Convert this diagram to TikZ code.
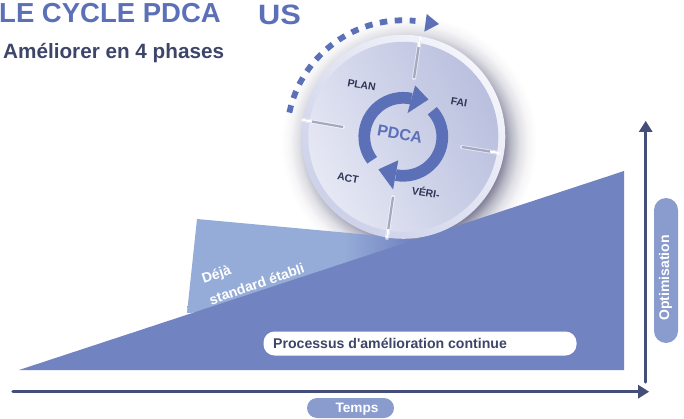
\documentclass[tikz,border=0pt]{standalone}
\usepackage{fontspec}
\setmainfont{Liberation Sans}
\newfontfamily\plainfam{Liberation Sans}[Ligatures=ResetAll]
\definecolor{ttl}{HTML}{5C70B8}
\definecolor{sub}{HTML}{3D4568}
\definecolor{mainblue}{HTML}{7283C1}
\definecolor{lightblue}{HTML}{95ACD8}
\definecolor{axiscol}{HTML}{454E78}
\definecolor{pillcol}{HTML}{8A9CCE}
\definecolor{shadowcol}{HTML}{84849C}
\definecolor{ringcol}{HTML}{5C70B8}
\definecolor{diskA}{HTML}{E6E8F4}
\definecolor{diskB}{HTML}{B9BFDE}
\definecolor{rimA}{HTML}{CDD1E9}
\definecolor{rimB}{HTML}{F4F5FB}
\definecolor{labelcol}{HTML}{2F3555}
\definecolor{tickcol}{HTML}{A4A8C0}
\pgfdeclareradialshading{softshadow}{\pgfpoint{0bp}{0bp}}{color(0bp)=(shadowcol); color(18.4bp)=(shadowcol); color(20bp)=(shadowcol!55!white); color(21.5bp)=(shadowcol!27!white); color(23.2bp)=(shadowcol!8!white); color(25bp)=(white); color(50bp)=(white)}
\pgfdeclarehorizontalshading{bandfade}{100bp}{color(0bp)=(lightblue); color(25bp)=(lightblue); color(58bp)=(lightblue); color(72bp)=(mainblue); color(100bp)=(mainblue)}
\tikzset{
  fs/.style={font=\fontsize{#1}{#1}\selectfont\bfseries},
  pill/.style={fill=pillcol,rounded corners=#1,draw=none},
  axisline/.style={draw=axiscol,line width=3.2pt,line cap=round},
  head/.style={fill=axiscol,draw=none},
  disklabel/.style={fs=10.5,text=labelcol,rotate=-10,inner sep=0pt},
  tickmark/.style={draw=tickcol,line width=2.2pt},
  tickhi/.style={draw=white,line width=2.2pt},
  tickhalo/.style={draw=white,opacity=.55,line width=4pt,line cap=round},
  ringline/.style={draw=ringcol,line width=11.7pt},
}
\begin{document}
\begin{tikzpicture}[x=1pt,y=-1pt]
\useasboundingbox (0,0) rectangle (684,419);
% shadow
\shade[shading=softshadow] (409,143) circle[radius=128pt];
% band and wedge
\shade[shading=bandfade,draw=none] (197,219) -- (425,240) -- (425,300) -- (187,313) -- cycle;
\fill[mainblue] (19,370) -- (624,171) -- (624,370) -- cycle;
% disk
\coordinate (dc) at (403.3,136.8);
\shade[left color=rimA,right color=rimB,shading angle=135] (dc) circle[radius=102pt];
\shade[left color=diskA,right color=diskB,shading angle=115] (dc) circle[radius=95pt];
% ticks
\draw[tickhalo] (420,38) -- (414,78);
\draw[tickhalo] (303,120) -- (343,127);
\draw[tickhalo] (499,153) -- (462,147);
\draw[tickhalo] (387,238) -- (393,197);
\draw[tickmark] (420,38) -- (414,78);
\draw[tickmark] (303,120) -- (343,127);
\draw[tickmark] (499,153) -- (462,147);
\draw[tickmark] (387,238) -- (393,197);
\draw[tickhi] (420,38) -- (418.6,47);
\draw[tickhi] (303,120) -- (312,121.5);
\draw[tickhi] (499,153) -- (490,151.5);
\draw[tickhi] (387,238) -- (388.4,229);
% ring arrows
\begin{scope}[shift={(dc)}]
  \draw[ringline] (217:39pt) arc[start angle=217,end angle=78,radius=39pt];
  \fill[ringcol] (77:52.7pt) -- (56:45pt) -- (80:24pt) -- cycle;
  \draw[ringline] (42:39pt) arc[start angle=42,end angle=-101,radius=39pt];
  \fill[ringcol] (-102:24pt) -- (232.6:41pt) -- (-101:53.7pt) -- cycle;
  % dashed outer arrow
  \draw[ttl,line width=5.8pt,dash pattern=on 7.5pt off 7.5pt] (168:116.5pt) arc[start angle=168,end angle=84,radius=116.5pt];
\end{scope}
\fill[ttl] (439,24) -- (426.7,14) -- (424.3,31.7) -- cycle;
% disk texts
\node[disklabel] (plan) at (361.7,85) {PLAN};
\node[disklabel] (fai) at (459,102.3) {FAI};
\node[disklabel] (act) at (348,178) {ACT};
\node[disklabel] (veri) at (426,192) {VÉRI-};
\node[fs=16,text=ttl,rotate=-10,inner sep=0pt] (pdca) at (400,134.3) {PDCA};
% titles
\node[fs=27.5,text=ttl,anchor=base west,inner sep=0pt] (title) at (-1,23) {LE CYCLE PDCA};
\node[fs=28,text=ttl,anchor=base west,inner sep=0pt,xscale=1.1] (us) at (258,25) {US};
\node[fs=20.7,text=sub,anchor=base west,inner sep=0pt] (subt) at (3,59) {Améliorer en 4 phases};
% band labels
\node[fs=14,text=white,rotate=19,inner sep=0pt] (deja) at (216.7,275) {Déjà};
\node[fs=14,text=white,rotate=19,inner sep=0pt] (std) at (256.7,284) {standard établi};
% white pill
\node[fill=white,rounded corners=11pt,minimum width=313pt,minimum height=24pt,inner sep=0pt] (proc) at (420,343.5) {};
\node[fs=14.1,text=sub,anchor=base west,inner sep=0pt] (proct) at (273,348) {\plainfam\bfseries Processus d'amélioration continue};
% axes
\coordinate (v0) at (645.7,382);
\coordinate (v1) at (645.7,131);
\coordinate (h0) at (13,391.7);
\coordinate (h1) at (638,391.7);
\draw[axisline] (v0) -- (v1);
\draw[axisline] (h0) -- (h1);
\fill[head] (645.7,121) -- (652.7,132) -- (638.7,132) -- cycle;
\fill[head] (649,391.7) -- (638,384.7) -- (638,398.7) -- cycle;
% pills
\node[pill=12pt,minimum width=24pt,minimum height=145pt,inner sep=0pt] (optp) at (666,270.5) {};
\node[fs=14,text=white,rotate=90,inner sep=0pt] (opt) at (665.5,278) {Optimisation};
\node[pill=10pt,minimum width=87pt,minimum height=20pt,inner sep=0pt] (tempsp) at (350.5,408) {};
\node[fs=13.65,text=white,inner sep=0pt] (temps) at (357,409) {Temps};
\end{tikzpicture}
\end{document}
